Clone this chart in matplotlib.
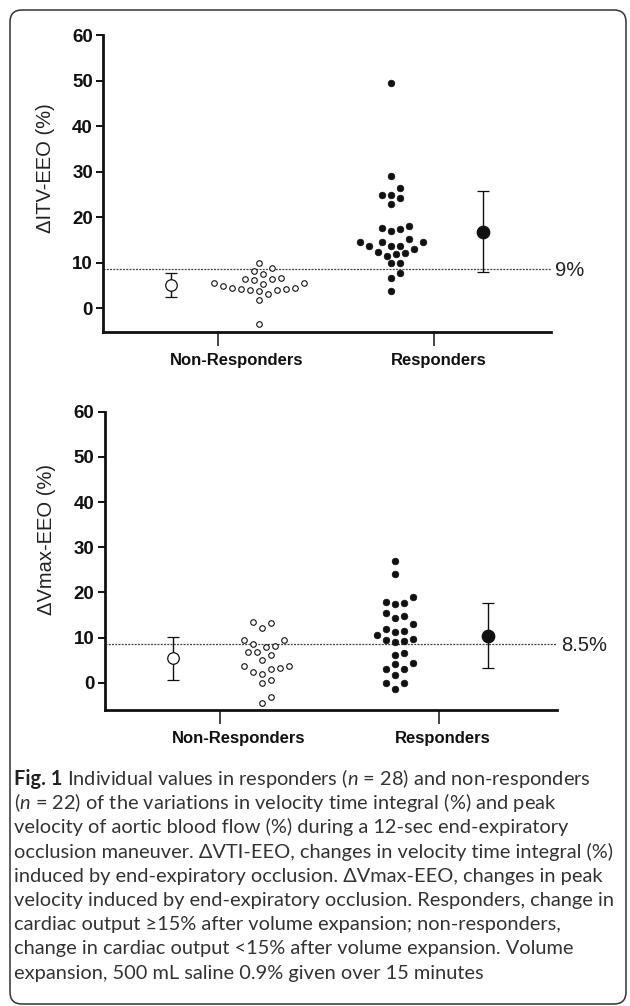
import numpy as np
import matplotlib
matplotlib.use("Agg")
import matplotlib.pyplot as plt
import matplotlib.transforms as mtransforms
from matplotlib.patches import FancyBboxPatch

# ---------------- data ----------------
categories = ["Non-Responders", "Responders"]

vti_nonresp = [9.95, 8.78, 8.12, 7.46, 6.72, 6.43, 6.15, 6.43, 5.62, 4.96, 4.39,
               4.30, 4.02, 4.08, 3.73, 4.30, 4.39, 5.40, 5.62, 3.21, 1.82, -3.45]
vti_resp = [49.5, 29.1, 26.5, 24.9, 24.9, 24.2, 23.0, 18.1, 17.4, 17.0, 17.7,
            14.6, 14.6, 14.6, 15.2, 13.8, 13.0, 13.8, 13.8, 12.1, 11.6, 12.0,
            12.4, 9.9, 10.0, 7.8, 6.7, 3.8]
vti_mean = [5.1, 16.85]
vti_sd = [2.65, 8.85]
vti_threshold = 8.55
vti_threshold_label = "9%"

vmax_nonresp = [13.15, 12.0, 13.5, 9.45, 8.6, 7.9, 8.1, 9.45, 6.9, 6.1, 6.9,
                5.0, 3.7, 3.3, 2.3, 2.0, 3.1, 3.7, 0.6, 0.0, -3.2, -4.6]
vmax_resp = [26.9, 24.0, 19.0, 17.7, 17.4, 17.9, 15.4, 14.3, 14.8, 12.9, 11.4,
             11.2, 11.9, 10.6, 9.4, 9.0, 9.2, 9.7, 6.1, 6.6, 3.1, 4.1, 3.1,
             4.4, 1.6, 0.0, 0.0, -1.3]
vmax_mean = [5.4, 10.4]
vmax_sd = [4.8, 7.2]
vmax_threshold = 8.5
vmax_threshold_label = "8.5%"

ylabels = ["\u0394ITV-EEO (%)", "\u0394Vmax-EEO (%)"]
yticks = [0, 10, 20, 30, 40, 50, 60]

caption_head = "Fig. 1"
caption_lines = [
    r" Individual values in responders ($\mathit{n}$ = 28) and non-responders",
    r"($\mathit{n}$ = 22) of the variations in velocity time integral (%) and peak",
    "velocity of aortic blood flow (%) during a 12-sec end-expiratory",
    "occlusion maneuver. \u0394VTI-EEO, changes in velocity time integral (%)",
    "induced by end-expiratory occlusion. \u0394Vmax-EEO, changes in peak",
    "velocity induced by end-expiratory occlusion. Responders, change in",
    "cardiac output \u226515% after volume expansion; non-responders,",
    "change in cardiac output <15% after volume expansion. Volume",
    "expansion, 500 mL saline 0.9% given over 15 minutes",
]

# ---------------- layout ----------------
W, H, DPI = 630, 1006, 100
plt.rcParams["mathtext.fontset"] = "custom"
plt.rcParams["mathtext.rm"] = "Lato"
plt.rcParams["mathtext.it"] = "Lato:italic"
plt.rcParams["mathtext.bf"] = "Lato:bold"

fig = plt.figure(figsize=(W / DPI, H / DPI), dpi=DPI)
fig.patch.set_facecolor("white")


def px_box(left, top, right, bottom):
    return [left / W, 1 - bottom / H, (right - left) / W, (bottom - top) / H]


TICK_FONT = ["Liberation Sans", "DejaVu Sans"]
INK = "#111111"

POS = np.array([1.0, 2.0])
MEAN_SHIFT = np.array([-0.216, 0.225])
SWARM_SHIFT = np.array([0.19, -0.20])


def swarm_x(ax, values, center, dist_px=8.6, step_px=4.5):
    vals = np.asarray(values, float)
    disp = ax.transData.transform(np.column_stack([np.full(len(vals), center), vals]))
    x0 = disp[0, 0]
    ys = disp[:, 1]
    order = np.argsort(vals)
    cand = [0] + [s * k for k in range(1, 40) for s in (1, -1)]
    px_list, py_list = [], []
    xs = np.empty(len(vals))
    for i in order:
        for k in cand:
            x = x0 + k * step_px
            if all((x - a) ** 2 + (ys[i] - b) ** 2 >= dist_px ** 2
                   for a, b in zip(px_list, py_list)):
                break
        px_list.append(x)
        py_list.append(ys[i])
        xs[i] = x
    return ax.transData.inverted().transform(np.column_stack([xs, ys]))[:, 0]


def draw_panel(ax, nonresp, resp, means, sds, thr, thr_label, ylabel, ymin, xmin, label_y):
    ax.set_xlim(xmin, 2.537)
    ax.set_ylim(ymin, 60)
    for s in ("top", "right"):
        ax.spines[s].set_visible(False)
    for s in ("left", "bottom"):
        ax.spines[s].set_linewidth(2.0)
        ax.spines[s].set_color(INK)
    ax.set_yticks(yticks)
    ax.set_yticklabels([str(t) for t in yticks], fontfamily=TICK_FONT,
                       fontweight="bold", fontsize=13.5, color=INK)
    ax.tick_params(axis="y", length=5, width=1.4, pad=2.5, color=INK)
    ax.set_xticks(POS)
    ax.set_xticklabels(categories, fontfamily=TICK_FONT, fontweight="bold",
                       fontsize=12, color=INK)
    ax.tick_params(axis="x", length=10, width=1.1, pad=5, color=INK)
    for lbl, dx in zip(ax.get_xticklabels(), [19, 4]):
        lbl.set_transform(lbl.get_transform() +
                          mtransforms.ScaledTranslation(dx / DPI, 0, fig.dpi_scale_trans))

    ax.set_ylabel(ylabel, fontfamily=TICK_FONT, fontsize=14.5, color="#222222")
    ax.yaxis.set_label_coords(-0.108, label_y)

    # threshold
    ax.axhline(thr, color="#444444", lw=0.9, ls=(0, (1.6, 1.0)), zorder=1)
    ax.annotate(thr_label, xy=(1.0, thr), xycoords=("axes fraction", "data"),
                xytext=(3, -1), textcoords="offset points", va="center", ha="left",
                fontsize=14.5, fontfamily=TICK_FONT, color="#222222",
                annotation_clip=False)

    # individual values
    xn = swarm_x(ax, nonresp, POS[0] + SWARM_SHIFT[0])
    ax.scatter(xn, nonresp, s=16, facecolor="white", edgecolor=INK,
               linewidth=0.8, zorder=3, clip_on=False)
    xr = swarm_x(ax, resp, POS[1] + SWARM_SHIFT[1])
    ax.scatter(xr, resp, s=23, facecolor=INK, edgecolor=INK,
               linewidth=0.5, zorder=3, clip_on=False)

    # mean +/- SD
    mx = POS + MEAN_SHIFT
    ax.errorbar(mx[0], means[0], yerr=sds[0], fmt="o", ms=8.3, mfc="white",
                mec=INK, mew=0.9, ecolor=INK, elinewidth=1.0, capsize=4.2,
                capthick=1.0, zorder=4)
    ax.errorbar(mx[1], means[1], yerr=sds[1], fmt="o", ms=9.0, mfc=INK,
                mec=INK, mew=0.9, ecolor=INK, elinewidth=1.0, capsize=4.2,
                capthick=1.0, zorder=4)


ax1 = fig.add_axes(px_box(103.3, 35, 550.7, 331.7))
draw_panel(ax1, vti_nonresp, vti_resp, vti_mean, vti_sd, vti_threshold,
           vti_threshold_label, ylabels[0], -5.1, 0.472, 0.55)

ax2 = fig.add_axes(px_box(105, 411.7, 556.7, 710))
draw_panel(ax2, vmax_nonresp, vmax_resp, vmax_mean, vmax_sd, vmax_threshold,
           vmax_threshold_label, ylabels[1], -6.05, 0.475, 0.57)

# ---------------- frame ----------------
frame = FancyBboxPatch((10 / DPI, (H - 1004) / DPI), 616 / DPI, 994 / DPI,
                       boxstyle="round,pad=0,rounding_size=0.12",
                       transform=fig.dpi_scale_trans, fill=False,
                       edgecolor="#333333", linewidth=1.1, zorder=0)
fig.patches.append(frame)

# ---------------- caption ----------------
CAP_FONT = ["Lato", "DejaVu Sans"]
first_center, spacing = 780.0, 24.2
left_px = 14.0
texts = []
for i, line in enumerate(caption_lines):
    yb = first_center + i * spacing + 5.0
    t = fig.text(left_px / W, 1 - yb / H, line, fontfamily=CAP_FONT, fontsize=12,
                 color="#333333", ha="left", va="baseline")
    texts.append(t)
head = fig.text(left_px / W, 1 - (first_center + 5.0) / H, caption_head,
                fontfamily=CAP_FONT, fontweight="bold", fontsize=12,
                color="#222222", ha="left", va="baseline")

fig.canvas.draw()
renderer = fig.canvas.get_renderer()
w6 = texts[5].get_window_extent(renderer).width
scale = 598.0 / w6
for t in texts:
    t.set_fontsize(12 * scale)
head.set_fontsize(12 * scale)
fig.canvas.draw()
hw = head.get_window_extent(renderer).width
texts[0].set_x((left_px + hw) / W)

fig.savefig("out.png", dpi=DPI, facecolor="white")
